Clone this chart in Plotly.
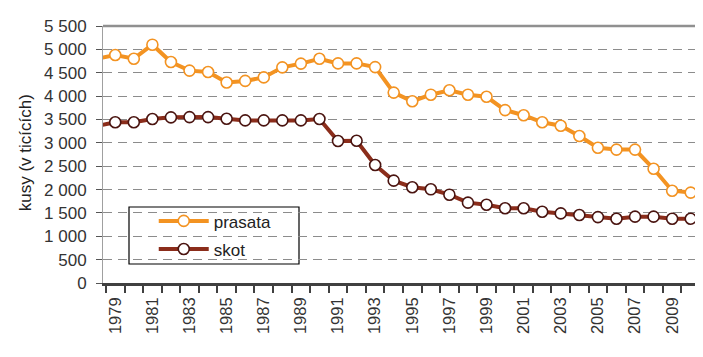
import plotly.graph_objects as go

years = list(range(1978, 2011))
prasata = [4800, 4880, 4800, 5100, 4730, 4545, 4515, 4290, 4325, 4400, 4615, 4695,
           4800, 4700, 4700, 4620, 4075, 3890, 4030, 4125, 4030, 3985, 3700, 3590,
           3440, 3365, 3145, 2895, 2855, 2855, 2445, 1975, 1935]
skot = [3360, 3440, 3440, 3510, 3545, 3550, 3550, 3515, 3480, 3480, 3480, 3480,
        3510, 3040, 3045, 2525, 2190, 2050, 2005, 1890, 1720, 1675, 1600, 1600,
        1525, 1490, 1455, 1410, 1375, 1420, 1420, 1375, 1375]
x_tick_years = list(range(1979, 2010, 2))
y_ticks = list(range(0, 5501, 500))
y_tick_text = ["0", "500", "1 000", "1 500", "2 000", "2 500", "3 000", "3 500",
               "4 000", "4 500", "5 000", "5 500"]

FONT = "Liberation Sans, Arial, sans-serif"
ORANGE = "#F39322"
BROWN = "#8B2D1B"

fig = go.Figure()
fig.add_trace(go.Scatter(
    x=years, y=prasata, name="prasata", mode="lines+markers", legendgroup="a",
    line=dict(color=ORANGE, width=4),
    marker=dict(symbol="circle", size=11, color="white",
                line=dict(color=ORANGE, width=1.6)),
))
fig.add_trace(go.Scatter(
    x=years, y=skot, name="skot", mode="lines+markers", legendgroup="b",
    line=dict(color=BROWN, width=4),
    marker=dict(symbol="circle", size=11, color="white",
                line=dict(color="#4A1410", width=1.6)),
))

# page has an 8px body margin; figure is sized so plot area lands at 103..700 x 26..283
fig.update_layout(
    width=695, height=349,
    margin=dict(l=95, r=3, t=18, b=74),
    paper_bgcolor="white", plot_bgcolor="white",
    font=dict(family=FONT, size=17, color="#333333"),
    showlegend=True,
    legend=dict(
        x=0.085, y=0.31, xanchor="left", yanchor="top",
        bgcolor="rgba(0,0,0,0)", borderwidth=0,
        font=dict(family=FONT, size=17, color="#222222"),
        itemwidth=50, traceorder="grouped", tracegroupgap=3,
    ),
    xaxis=dict(
        range=[1978.34, 2010.5],
        tickmode="array", tickvals=x_tick_years,
        ticktext=[str(y) for y in x_tick_years],
        tickangle=-90, ticks="", showgrid=False,
        ticklabelstandoff=5,
        showline=True, linecolor="#404040", linewidth=2.5,
        tickfont=dict(family=FONT, size=16.5, color="#333333"),
        minor=dict(tickmode="array",
                   tickvals=[y + 0.5 for y in range(1978, 2011)],
                   ticks="outside", ticklen=7, tickwidth=2,
                   tickcolor="#404040", showgrid=False),
        zeroline=False, mirror=False,
    ),
    yaxis=dict(
        range=[0, 5500],
        tickmode="array", tickvals=y_ticks, ticktext=y_tick_text,
        ticks="outside", ticklen=6, tickcolor="#555555", tickwidth=1,
        ticklabelstandoff=6,
        showgrid=True, gridcolor="#8C8C8C", griddash="9px,6px", gridwidth=1,
        showline=True, linecolor="#A0A0A0", linewidth=1,
        zeroline=False,
        tickfont=dict(family=FONT, size=17, color="#333333"),
    ),
)

# y-axis title
fig.add_annotation(
    text="kusy (v ticících)", xref="paper", yref="paper",
    x=(25 - 103) / 597, y=0.505, xanchor="center", yanchor="middle",
    textangle=-90, showarrow=False,
    font=dict(family=FONT, size=17, color="#222222"),
)

# legend box
fig.add_shape(type="rect", xref="paper", yref="paper", layer="between",
              x0=(129 - 103) / 597, x1=(299 - 103) / 597,
              y0=(283 - 264) / 257, y1=(283 - 207) / 257,
              fillcolor="white", line=dict(color="black", width=1.2))

# top and right frame
fig.add_shape(type="line", xref="paper", yref="paper", x0=0, x1=1, y0=1, y1=1,
              line=dict(color="#909090", width=2.5))
fig.add_shape(type="line", xref="paper", yref="paper", x0=1, x1=1, y0=0, y1=1,
              line=dict(color="#909090", width=2))

fig.write_html("out.html")
